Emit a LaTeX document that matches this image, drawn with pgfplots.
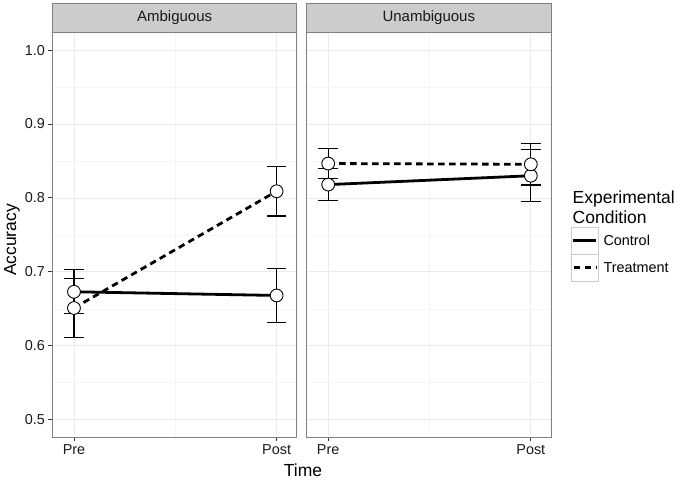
\documentclass[border=0pt]{standalone}
\usepackage{fontspec}
\setmainfont{Liberation Sans}
\usepackage{pgfplots}
\pgfplotsset{compat=1.18}

\pgfplotsset{
  facet/.style={
    scale only axis, width=244.2pt, height=405pt,
    xmin=0.894, xmax=2.099, ymin=0.4765, ymax=1.0245,
    xtick={1,2}, xticklabels={Pre,Post}, minor xtick={1.5},
    ytick={0.5,0.6,0.7,0.8,0.9,1.0}, minor ytick={0.55,0.65,0.75,0.85,0.95},
    grid=both,
    major grid style={black!8, line width=0.7pt},
    minor grid style={black!4, line width=0.5pt},
    axis line style={black!50, line width=0.8pt},
    tick align=outside, xtick pos=bottom, ytick pos=left,
    major tick length=4pt, minor tick length=0pt,
    tick style={black!80, line width=0.9pt},
    tick label style={font=\fontsize{14.4}{16}\selectfont, black!90},
    /pgf/number format/assume math mode=true,
    yticklabel style={/pgf/number format/.cd, fixed, fixed zerofill, precision=1},
  },
  ctrl/.style={black, line width=2.8pt, mark=none},
  treat/.style={black, line width=2.8pt, mark=none, dash pattern=on 6.5pt off 4.5pt},
  ebar/.style={black, only marks, mark=none,
    error bars/.cd, y dir=both, y explicit,
    error bar style={line width=1.1pt, solid},
    error mark options={rotate=90, mark size=9.8pt, line width=1.1pt, solid}},
  pts/.style={only marks, mark=*, mark size=6.4pt,
    mark options={fill=white, draw=black, line width=0.9pt, solid}},
}

\begin{document}
\begin{tikzpicture}[x=1pt,y=1pt]
\path (0,0) rectangle (680,480);

% ---- Ambiguous ----
\begin{axis}[facet, at={(52.5pt,43pt)}, anchor=south west]
  \addplot[ctrl]  coordinates {(1,0.673) (2,0.668)};
  \addplot[treat] coordinates {(1,0.651) (2,0.809)};
  \addplot[ebar]  coordinates {(1,0.673) +- (0,0.030) (2,0.668) +- (0,0.037)};
  \addplot[ebar]  coordinates {(1,0.651) +- (0,0.040) (2,0.809) +- (0,0.0335)};
  \addplot[pts]   coordinates {(1,0.673) (2,0.668)};
  \addplot[pts]   coordinates {(1,0.651) (2,0.809)};
\end{axis}

% ---- Unambiguous ----
\begin{axis}[facet, at={(306.7pt,43pt)}, anchor=south west,
    yticklabels=\empty, y tick style={draw=none}]
  \addplot[ctrl]  coordinates {(1,0.818) (2,0.830)};
  \addplot[treat] coordinates {(1,0.8465) (2,0.8455)};
  \addplot[ebar]  coordinates {(1,0.818) +- (0,0.022) (2,0.830) +- (0,0.035)};
  \addplot[ebar]  coordinates {(1,0.8465) +- (0,0.020) (2,0.8455) +- (0,0.028)};
  \addplot[pts]   coordinates {(1,0.818) (2,0.830)};
  \addplot[pts]   coordinates {(1,0.8465) (2,0.8455)};
\end{axis}

% strips
\draw[black!50, fill=black!20, line width=0.8pt] (52.5,448) rectangle (296.7,477);
\draw[black!50, fill=black!20, line width=0.8pt] (306.7,448) rectangle (550.9,477);
\node[font=\fontsize{15}{17}\selectfont, black!90] at (174.6,462.5) {Ambiguous};
\node[font=\fontsize{15}{17}\selectfont, black!90] at (428.8,462.5) {Unambiguous};

% axis titles
\node[font=\fontsize{17.5}{20}\selectfont, rotate=90] at (12,240) {Accuracy};
\node[font=\fontsize{17.5}{20}\selectfont, anchor=base] at (303,3.5) {Time};

% legend
\node[font=\fontsize{17.5}{20}\selectfont, anchor=base west, inner sep=0pt] at (572.5,276.7) {Experimental};
\node[font=\fontsize{17.5}{20}\selectfont, anchor=base west, inner sep=0pt] at (572.5,256.7) {Condition};
\draw[black!20, fill=white, line width=0.8pt] (571,225.7) rectangle (598,252.7);
\draw[black!20, fill=white, line width=0.8pt] (571,198.7) rectangle (598,225.7);
\draw[black, line width=2.8pt] (573,239.2) -- (596,239.2);
\draw[black, line width=2.8pt, dash pattern=on 6.5pt off 4.5pt] (573.5,212.2) -- (596,212.2);
\node[font=\fontsize{14.4}{16}\selectfont, anchor=west] at (600,239.2) {Control};
\node[font=\fontsize{14.4}{16}\selectfont, anchor=west] at (600,212.2) {Treatment};
\end{tikzpicture}
\end{document}
